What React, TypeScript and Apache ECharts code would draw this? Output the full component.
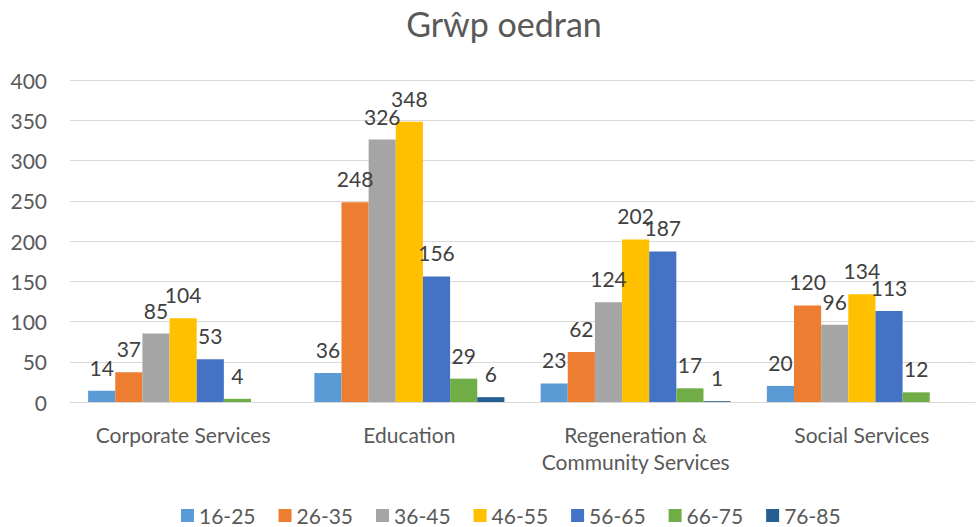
import React, { useEffect, useRef } from "react";
import * as echarts from "echarts";

const categories = [
  "Corporate Services",
  "Education",
  "Regeneration &\nCommunity Services",
  "Social Services",
];
const seriesNames = ["16-25", "26-35", "36-45", "46-55", "56-65", "66-75", "76-85"];
const v16_25 = [14, 36, 23, 20];
const v26_35 = [37, 248, 62, 120];
const v36_45 = [85, 326, 124, 96];
const v46_55 = [104, 348, 202, 134];
const v56_65 = [53, 156, 187, 113];
const v66_75 = [4, 29, 17, 12];
const v76_85 = [null, 6, 1, null];
const seriesValues = [v16_25, v26_35, v36_45, v46_55, v56_65, v66_75, v76_85];
const colors = ["#5B9BD5", "#ED7D31", "#A5A5A5", "#FFC000", "#4472C4", "#70AD47", "#255E91"];
const yTicks = { min: 0, max: 400, interval: 50 };

const FONT = "Lato, 'Open Sans', sans-serif";

export default function App() {
  const ref = useRef<HTMLDivElement>(null);
  useEffect(() => {
    document.body.style.margin = "0";
    if (!ref.current) return;
    const chart = echarts.init(ref.current, undefined, { renderer: "svg" });
    chart.setOption({
      animation: false,
      textStyle: { fontFamily: FONT },
      title: {
        text: "Grŵp oedran",
        left: 504,
        textAlign: "center",
        top: 6,
        padding: 0,
        textStyle: { fontFamily: FONT, fontSize: 34, fontWeight: "normal", color: "#595959" },
      },
      legend: {
        top: 505,
        left: 181,
        padding: 0,
        itemWidth: 13,
        itemHeight: 13,
        itemGap: 23,
        icon: "rect",
        textStyle: { fontFamily: FONT, fontSize: 21, color: "#595959" },
        data: seriesNames,
      },
      grid: { left: 70, right: 3, top: 80, bottom: 125 },
      xAxis: {
        type: "category",
        data: categories,
        axisLine: { lineStyle: { color: "#d9d9d9" } },
        axisTick: { show: false },
        axisLabel: {
          fontFamily: FONT,
          fontSize: 21,
          color: "#595959",
          margin: 19,
          lineHeight: 27,
          interval: 0,
        },
      },
      yAxis: {
        type: "value",
        min: yTicks.min,
        max: yTicks.max,
        interval: yTicks.interval,
        axisLine: { show: false },
        axisTick: { show: false },
        splitLine: { lineStyle: { color: "#d9d9d9" } },
        axisLabel: { fontFamily: FONT, fontSize: 21, color: "#595959", margin: 23 },
      },
      series: seriesNames.map((name, i) => ({
        name,
        type: "bar",
        data: seriesValues[i],
        barGap: "0%",
        barCategoryGap: "16%",
        itemStyle: { color: colors[i] },
        label: {
          show: true,
          position: "top",
          distance: 13,
          fontFamily: FONT,
          fontSize: 21,
          color: "#404040",
        },
      })),
    });
    return () => chart.dispose();
  }, []);
  return <div ref={ref} style={{ width: 978, height: 527 }} />;
}
